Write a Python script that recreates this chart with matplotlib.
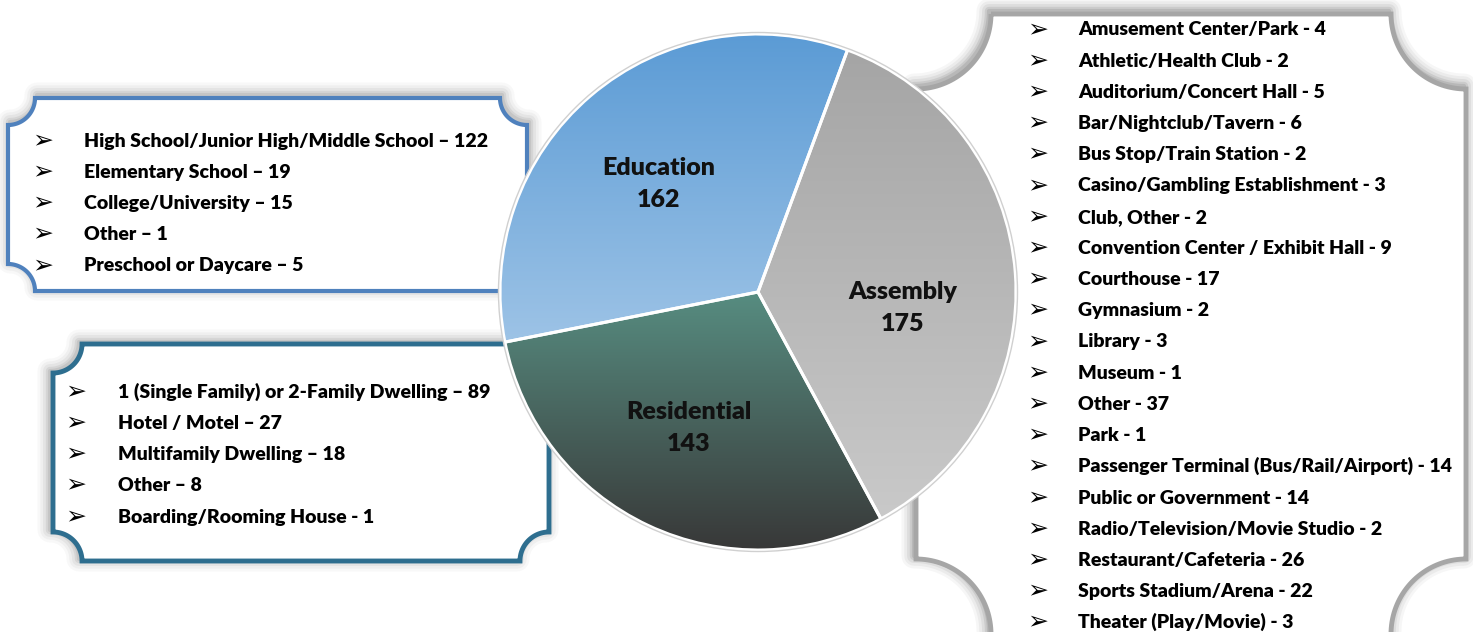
import numpy as np
import matplotlib
matplotlib.use("Agg")
import matplotlib.pyplot as plt
from matplotlib.path import Path
from matplotlib.patches import PathPatch, Circle
from matplotlib.colors import to_rgb

# ---------------- data ----------------
categories = ["Education", "Assembly", "Residential"]
totals = [162, 175, 143]

education_items = [
    "High School/Junior High/Middle School – 122",
    "Elementary School – 19",
    "College/University – 15",
    "Other – 1",
    "Preschool or Daycare – 5",
]
residential_items = [
    "1 (Single Family) or 2-Family Dwelling – 89",
    "Hotel / Motel – 27",
    "Multifamily Dwelling – 18",
    "Other – 8",
    "Boarding/Rooming House - 1",
]
assembly_items = [
    "Amusement Center/Park - 4",
    "Athletic/Health Club - 2",
    "Auditorium/Concert Hall - 5",
    "Bar/Nightclub/Tavern - 6",
    "Bus Stop/Train Station - 2",
    "Casino/Gambling Establishment - 3",
    "Club, Other - 2",
    "Convention Center / Exhibit Hall - 9",
    "Courthouse - 17",
    "Gymnasium - 2",
    "Library - 3",
    "Museum - 1",
    "Other - 37",
    "Park - 1",
    "Passenger Terminal (Bus/Rail/Airport) - 14",
    "Public or Government - 14",
    "Radio/Television/Movie Studio - 2",
    "Restaurant/Cafeteria - 26",
    "Sports Stadium/Arena - 22",
    "Theater (Play/Movie) - 3",
]

slice_top = {"Education": "#5B9BD5", "Assembly": "#A5A5A5", "Residential": "#578D81"}
slice_bottom = {"Education": "#9DC3E6", "Assembly": "#C9C9C9", "Residential": "#383838"}

FONT = ["Lato", "DejaVu Sans"]
WEIGHT = "heavy"

# ---------------- figure ----------------
W, H = 1473, 632
fig = plt.figure(figsize=(W / 100, H / 100), dpi=100)
ax = fig.add_axes([0, 0, 1, 1])
ax.set_xlim(0, W)
ax.set_ylim(0, H)
ax.axis("off")


def Y(y):
    return H - y


def plaque(x0, y0, x1, y1, r, n=40):
    pts = [(x0 + r, y0), (x1 - r, y0)]
    t = np.linspace(np.pi, np.pi / 2, n)
    pts += list(zip(x1 + r * np.cos(t), y0 + r * np.sin(t)))
    t = np.linspace(-np.pi / 2, -np.pi, n)
    pts += list(zip(x1 + r * np.cos(t), y1 + r * np.sin(t)))
    t = np.linspace(0, -np.pi / 2, n)
    pts += list(zip(x0 + r * np.cos(t), y1 + r * np.sin(t)))
    t = np.linspace(np.pi / 2, 0, n)
    pts += list(zip(x0 + r * np.cos(t), y0 + r * np.sin(t)))
    return pts


def make_path(pts, dx=0, dy=0):
    verts = [(x + dx, Y(y) + dy) for x, y in pts]
    verts.append(verts[0])
    codes = [Path.MOVETO] + [Path.LINETO] * (len(verts) - 2) + [Path.CLOSEPOLY]
    return Path(verts, codes)


def draw_box(x0, y0, x1, y1, r, color, lw, sh_dx, sh_dy, sh_alpha=1.0):
    pts = plaque(x0, y0, x1, y1, r)
    sp = make_path(pts, sh_dx, sh_dy)
    for w, a in [(18, 0.04), (14, 0.05), (10, 0.07), (6, 0.10), (3, 0.12)]:
        ax.add_patch(PathPatch(sp, facecolor="none", edgecolor="#555555",
                               lw=w, alpha=a * sh_alpha, zorder=1,
                               joinstyle="round", capstyle="round"))
    p = make_path(pts)
    ax.add_patch(PathPatch(p, facecolor="white", edgecolor="none", zorder=2))
    ax.add_patch(PathPatch(p, facecolor="none", edgecolor=color, lw=lw, zorder=3,
                           joinstyle="miter"))


draw_box(8, 98, 527, 291, 27, "#4F81BD", 3.0, 2, 3)
draw_box(53, 344, 549, 561, 29, "#2E6E8F", 3.5, -3, 2)
draw_box(916, 14, 1466, 634, 75, "#A6A6A6", 3.5, -2, 3, 1.3)


def draw_list(items, bx, tx, y_first, step, fs=14):
    for i, item in enumerate(items):
        y = y_first + i * step
        ax.text(bx, Y(y), "\u27A2", family="DejaVu Sans", fontsize=18,
                ha="center", va="center", color="black", zorder=10)
        ax.text(tx, Y(y + 6.5), item, family=FONT, weight=WEIGHT,
                fontsize=fs, ha="left", va="baseline", color="black", zorder=10)


draw_list(education_items, 43, 84, 140, 31.25)
draw_list(residential_items, 76, 118, 391, 31.25)
draw_list(assembly_items, 1038, 1078, 29, 31.2)

# ---------------- pie ----------------
cx, cy, R = 758, 292, 258
wedges, _ = ax.pie(totals, center=(cx, Y(cy)), radius=R, startangle=191.2,
                   counterclock=False,
                   wedgeprops=dict(facecolor="none", edgecolor="white", linewidth=2.2))
ax.set_xlim(0, W)
ax.set_ylim(0, H)
ax.set_aspect("equal")
ax.axis("off")

for wdg, cat in zip(wedges, categories):
    wdg.set_zorder(6)
    bb = wdg.get_path().get_extents()
    c0 = np.array(to_rgb(slice_top[cat]))
    c1 = np.array(to_rgb(slice_bottom[cat]))
    t = np.linspace(0, 1, 256)[:, None]
    grad = (c0[None, :] * (1 - t) + c1[None, :] * t)[:, None, :]
    im = ax.imshow(grad, extent=(bb.x0, bb.x1, bb.y0, bb.y1), origin="upper",
                   aspect="auto", zorder=5, interpolation="bilinear")
    im.set_clip_path(wdg)

ax.add_patch(Circle((cx, Y(cy)), R + 1.5, facecolor="none", edgecolor="#D0D0D0",
                    lw=1.0, zorder=6))

label_pos = {"Education": (659, 168), "Assembly": (903, 292), "Residential": (689, 412)}
for cat, val in zip(categories, totals):
    x, y = label_pos[cat]
    ax.text(x, Y(y), cat, family=FONT, weight=WEIGHT, fontsize=18,
            ha="center", va="center", color="#111111", zorder=8)
    ax.text(x, Y(y + 32), str(val), family=FONT, weight=WEIGHT,
            fontsize=18, ha="center", va="center", color="#111111", zorder=8)

ax.set_xlim(0, W)
ax.set_ylim(0, H)
fig.savefig("out.png", dpi=100, facecolor="white")
